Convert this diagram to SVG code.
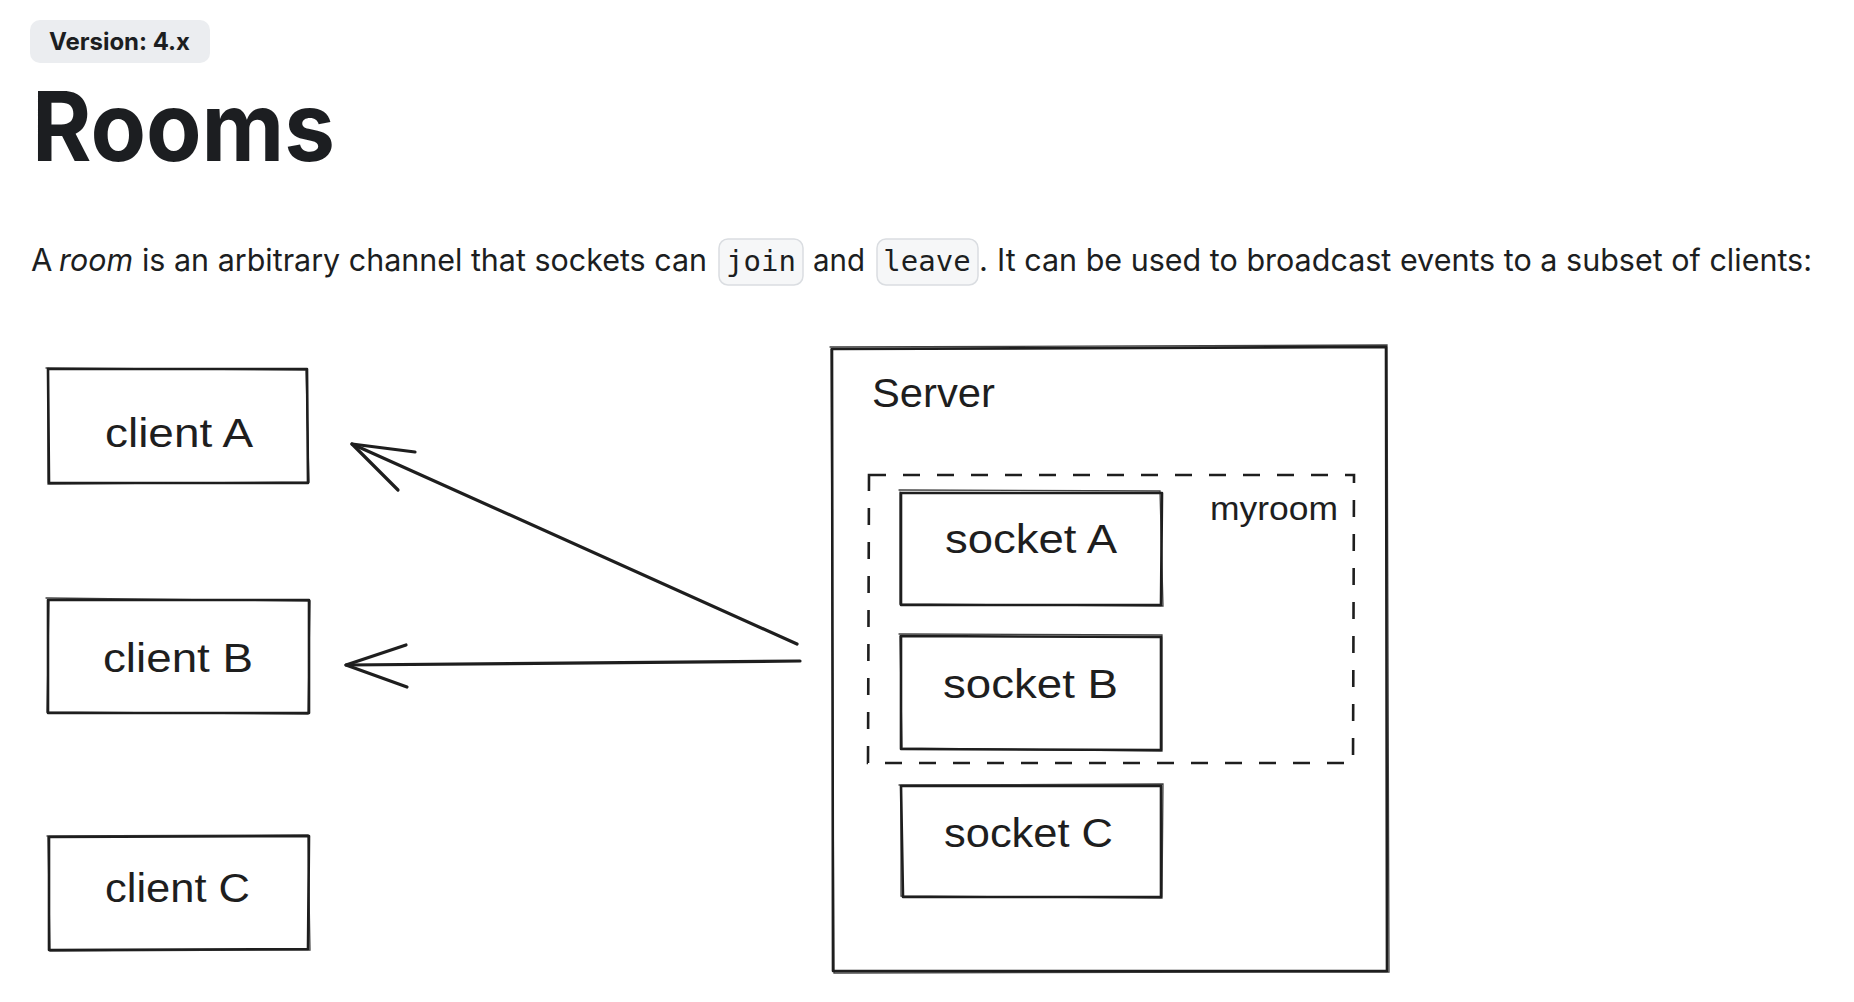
<svg xmlns="http://www.w3.org/2000/svg" width="1854" height="1002" viewBox="0 0 1854 1002">
  <style>
    .bg { fill: #ffffff; }
    .badge { fill: #ebedf0; }
    .badge-t { font-family: Inter, "Liberation Sans", sans-serif; font-weight: 700; font-size: 24px; fill: #1c1e21; }
    .title { font-family: Inter, "Liberation Sans", sans-serif; font-weight: 700; font-size: 96px; fill: #1c1e21; }
    .p { font-family: Inter, "Liberation Sans", sans-serif; font-size: 31px; fill: #1c1e21; }
    .code-box { fill: #f6f7f8; stroke: #dadde1; stroke-width: 1.5; }
    .code { font-family: "DejaVu Sans Mono", "Liberation Mono", monospace; font-size: 29px; fill: #1c1e21; text-anchor: middle; }
    .box { fill: none; stroke: #1e1e1e; stroke-width: 2.6; stroke-linejoin: round; stroke-linecap: round; }
    .box2 { fill: none; stroke: #1e1e1e; stroke-width: 1.3; stroke-linecap: round; opacity: 0.85; }
    .dash { fill: none; stroke: #1e1e1e; stroke-width: 2.6; stroke-dasharray: 17 17; }
    .lbl { font-family: "Liberation Sans", Arial, sans-serif; font-size: 40px; fill: #1e1e1e; }
    .lbl-s { font-family: "Liberation Sans", Arial, sans-serif; font-size: 33px; fill: #1e1e1e; }
    .conn { fill: none; stroke: #1e1e1e; stroke-width: 3.2; stroke-linecap: round; stroke-linejoin: round; }
  </style>
  <rect class="bg" x="0" y="0" width="1854" height="1002"/>

  <g id="header">
    <rect class="badge" x="30" y="20" width="180" height="43" rx="10"/>
    <text class="badge-t" x="49" y="50" textLength="141" lengthAdjust="spacingAndGlyphs">Version: 4.x</text>
    <text class="title" x="32" y="161" textLength="303" lengthAdjust="spacingAndGlyphs">Rooms</text>
  </g>

  <g id="intro">
    <text class="p" x="31" y="271">A</text>
    <text class="p" x="59" y="271" font-style="italic" textLength="74" lengthAdjust="spacingAndGlyphs">room</text>
    <text class="p" x="142" y="271" textLength="565" lengthAdjust="spacingAndGlyphs">is an arbitrary channel that sockets can</text>
    <rect class="code-box" x="719" y="239" width="84" height="46" rx="9"/>
    <text class="code" x="761" y="271">join</text>
    <text class="p" x="813" y="271" textLength="52" lengthAdjust="spacingAndGlyphs">and</text>
    <rect class="code-box" x="877" y="239" width="101" height="46" rx="9"/>
    <text class="code" x="927" y="271">leave</text>
    <text class="p" x="979" y="271">.</text>
    <text class="p" x="997" y="271" textLength="815" lengthAdjust="spacingAndGlyphs">It can be used to broadcast events to a subset of clients:</text>
  </g>

  <g id="server">
    <path class="box" d="M832 349 L1386 347 L1387 971 L833 971 Z"/>
    <path class="box2" d="M830 347 L1387 345 L1389 972 L834 973 L831 349"/>
    <text class="lbl" x="872" y="407" textLength="123" lengthAdjust="spacingAndGlyphs">Server</text>
  </g>

  <g id="myroom">
    <path class="dash" d="M869 475 L1354 475 L1353 763 L868 763 Z"/>
    <text class="lbl-s" x="1210" y="520" textLength="128" lengthAdjust="spacingAndGlyphs">myroom</text>
  </g>

  <g id="client-a">
    <path class="box" d="M48 369 L307 369 L308 483 L49 483 Z"/>
    <path class="box2" d="M46 368 L306 370 L309 482 L48 484 L48 368"/>
    <text class="lbl" x="105" y="447" textLength="148" lengthAdjust="spacingAndGlyphs">client A</text>
  </g>

  <g id="client-b">
    <path class="box" d="M48 600 L309 600 L309 713 L48 713 Z"/>
    <path class="box2" d="M46 598 L310 601 L308 714 L47 712 L49 599"/>
    <text class="lbl" x="103" y="672" textLength="150" lengthAdjust="spacingAndGlyphs">client B</text>
  </g>

  <g id="client-c">
    <path class="box" d="M49 837 L309 836 L308 949 L49 950 Z"/>
    <path class="box2" d="M47 836 L308 835 L310 950 L50 951 L48 837"/>
    <text class="lbl" x="105" y="902" textLength="145" lengthAdjust="spacingAndGlyphs">client C</text>
  </g>

  <g id="socket-a">
    <path class="box" d="M901 493 L1162 493 L1161 605 L901 605 Z"/>
    <path class="box2" d="M899 490 L1160 491 L1163 606 L900 604 L900 492"/>
    <text class="lbl" x="945" y="553" textLength="172" lengthAdjust="spacingAndGlyphs">socket A</text>
  </g>

  <g id="socket-b">
    <path class="box" d="M901 636 L1161 637 L1161 750 L901 749 Z"/>
    <path class="box2" d="M899 634 L1162 635 L1162 751 L902 748 L900 636"/>
    <text class="lbl" x="943" y="698" textLength="175" lengthAdjust="spacingAndGlyphs">socket B</text>
  </g>

  <g id="socket-c">
    <path class="box" d="M901 786 L1161 786 L1161 897 L903 897 Z"/>
    <path class="box2" d="M899 785 L1163 784 L1162 898 L901 896 L901 786"/>
    <text class="lbl" x="944" y="847" textLength="169" lengthAdjust="spacingAndGlyphs">socket C</text>
  </g>

  <g id="connectors">
    <path class="conn" d="M797 644 L352 444"/>
    <path class="conn" d="M415 452 L352 444 L398 490"/>
    <path class="conn" d="M800 661 L346 665"/>
    <path class="conn" d="M406 645 L346 665 L407 687"/>
  </g>
</svg>
